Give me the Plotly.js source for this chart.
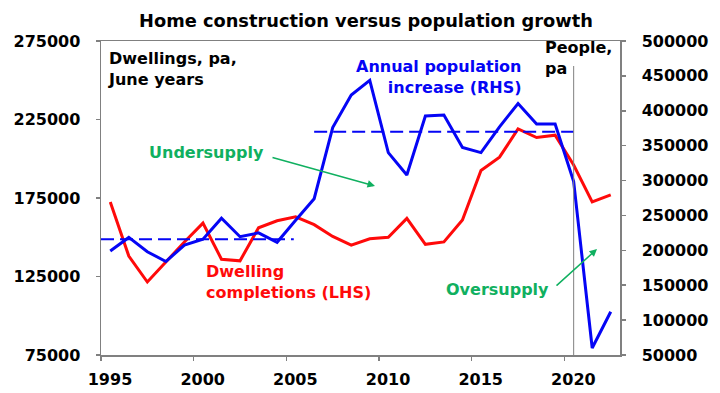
<!DOCTYPE html>
<html>
<head>
<meta charset="utf-8">
<script src="https://cdn.plot.ly/plotly-3.0.1.min.js"></script>
<style>
html,body{margin:0;padding:0;background:#fff;}
#chart{width:720px;height:393px;}
</style>
</head>
<body>
<div id="chart"></div>
<script>
// June years
const years = [1995,1996,1997,1998,1999,2000,2001,2002,2003,2004,2005,2006,2007,2008,2009,2010,2011,2012,2013,2014,2015,2016,2017,2018,2019,2020,2021,2022];
// Dwelling completions (LHS)
const completions = [172500,138000,121500,134500,147000,159000,136000,135000,156000,160500,163000,158000,150500,145000,149000,150000,162000,145500,147000,161000,192500,201000,219000,213500,215000,196000,172500,177000];
// Annual population increase (RHS)
const popIncrease = [199000,218500,198000,184000,207500,216000,246000,219500,225000,211500,243000,274000,376000,422500,443500,340000,308000,392500,394000,347500,340000,377000,410500,381000,381000,298500,60000,112000];
// Period averages of population increase
const avg1X = [1995, 2005.4];
const avg1Y = [216000, 216000];
const avg2X = [2006.5, 2020.5];
const avg2Y = [370000, 370000];
const xTicks = [1995,2000,2005,2010,2015,2020];
const markerYear = 2020.5;

const xMid = years.map(y => y + 0.5);

const BLUE = '#0505f5';
const RED = '#ff0a0a';
const GREEN = '#10b060';
const GRAY = '#808080';

// pixel -> paper helpers (plot area 101..620 x 41..355)
const L = 101, R = 620, T = 41, B = 355;
const PX = p => (p - L) / (R - L);
const PY = p => (B - p) / (B - T);

const traces = [
  {x: xMid, y: completions, type: 'scatter', mode: 'lines', yaxis: 'y',
   line: {color: RED, width: 3}, hoverinfo: 'skip'},
  {x: xMid, y: popIncrease, type: 'scatter', mode: 'lines', yaxis: 'y2',
   line: {color: BLUE, width: 3}, hoverinfo: 'skip'},
  {x: avg1X, y: avg1Y, type: 'scatter', mode: 'lines', yaxis: 'y2',
   line: {color: BLUE, width: 2, dash: '13px,6px'}, hoverinfo: 'skip'},
  {x: avg2X, y: avg2Y, type: 'scatter', mode: 'lines', yaxis: 'y2',
   line: {color: BLUE, width: 2, dash: '13px,6px'}, hoverinfo: 'skip'}
];

const tickFont = {family: 'DejaVu Sans', size: 16, color: '#000', weight: 'bold'};
const lblFont = (c) => ({family: 'DejaVu Sans', size: 16, color: c, weight: 'bold'});
const blackFont = {family: 'DejaVu Sans', size: 16, color: '#000', weight: 'bold'};

function txt(text, xp, yp, anchor, font) {
  return {text: text, xref: 'paper', yref: 'paper', x: PX(xp), y: PY(yp),
    xanchor: anchor, yanchor: 'middle', align: anchor, showarrow: false, font: font, borderpad: 0};
}

const annotations = [
  txt('Dwellings, pa,<br>June years', 107, 69, 'left', blackFont),
  txt('People,<br>pa', 544, 58, 'left', blackFont),
  txt('Annual population<br>increase (RHS)', 523, 77, 'right', lblFont(BLUE)),
  txt('Undersupply', 147.7, 152, 'left', lblFont(GREEN)),
  txt('Dwelling<br>completions (LHS)', 205, 282, 'left', lblFont(RED)),
  txt('Oversupply', 445, 289, 'left', lblFont(GREEN)),
  {text: '', xref: 'paper', yref: 'paper', x: PX(375), y: PY(186), ax: -104, ay: -29,
   showarrow: true, arrowhead: 2, arrowsize: 1, arrowwidth: 1.5, arrowcolor: GREEN},
  {text: '', xref: 'paper', yref: 'paper', x: PX(597), y: PY(249), ax: -42, ay: 38,
   showarrow: true, arrowhead: 2, arrowsize: 1, arrowwidth: 1.5, arrowcolor: GREEN}
];

const layout = {
  width: 720, height: 393,
  margin: {l: L, r: 720 - R, t: T, b: 393 - B},
  paper_bgcolor: '#fff', plot_bgcolor: '#fff',
  showlegend: false,
  title: {text: 'Home construction versus population growth',
    font: {family: 'DejaVu Sans', size: 17.8, color: '#000', weight: 'bold'},
    xref: 'container', yref: 'container', x: 366/720, y: 1 - 21/393,
    xanchor: 'center', yanchor: 'middle'},
  xaxis: {range: [1995, 2023], tickvals: xTicks, ticktext: xTicks.map(String),
    showgrid: false, zeroline: false, showline: true, linecolor: GRAY, linewidth: 1.5,
    mirror: true, ticks: 'outside', ticklen: 4, tickcolor: GRAY, tickwidth: 1.5,
    tickfont: tickFont, ticklabelshift: 9, ticklabelstandoff: 5},
  yaxis: {range: [75000, 275000], dtick: 50000, tick0: 75000, tickformat: 'd',
    showgrid: false, zeroline: false, showline: true, linecolor: GRAY, linewidth: 1.5,
    ticks: 'outside', ticklen: 4, tickcolor: GRAY, tickwidth: 1.5,
    tickfont: tickFont, ticklabelstandoff: 12},
  yaxis2: {range: [50000, 500000], dtick: 50000, tick0: 50000, tickformat: 'd',
    overlaying: 'y', side: 'right',
    showgrid: false, zeroline: false, showline: true, linecolor: GRAY, linewidth: 1.5,
    ticks: 'outside', ticklen: 4, tickcolor: GRAY, tickwidth: 1.5,
    tickfont: tickFont, ticklabelstandoff: 13},
  shapes: [{type: 'line', xref: 'x', yref: 'paper', x0: markerYear, x1: markerYear,
    y0: 0, y1: PY(66), line: {color: GRAY, width: 1}}],
  annotations: annotations
};

Plotly.newPlot('chart', traces, layout, {staticPlot: true, displayModeBar: false});
</script>
</body>
</html>
